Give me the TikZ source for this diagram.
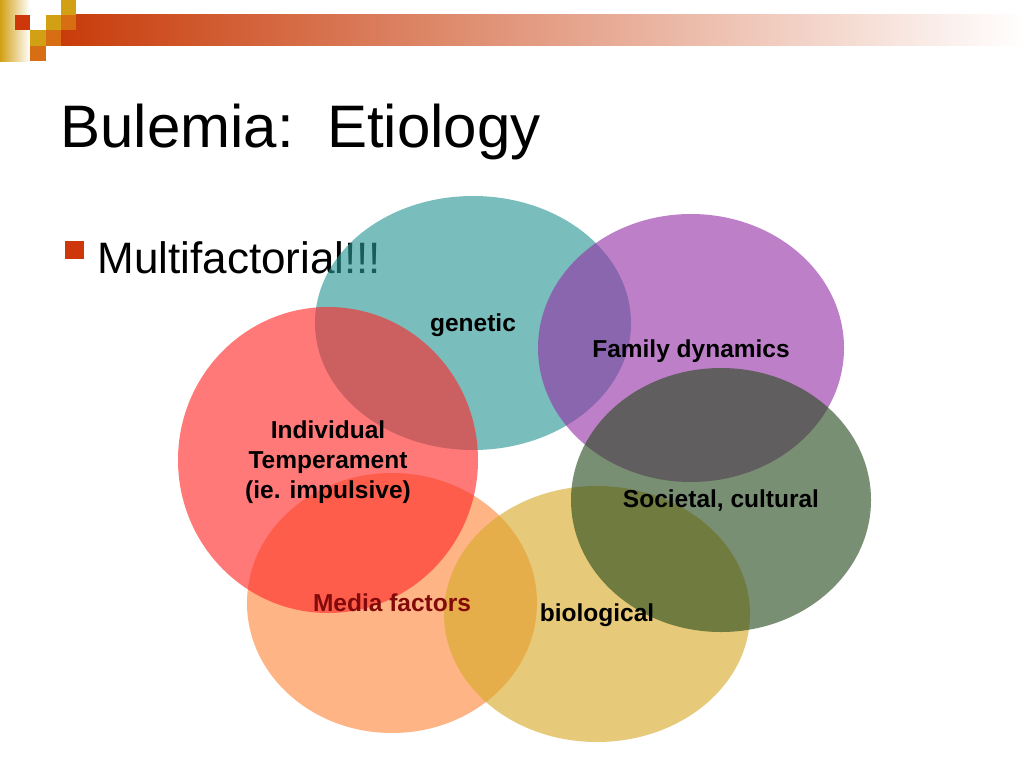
\documentclass[tikz,border=0pt]{standalone}
\usepackage{fontspec}
\setmainfont{Liberation Sans}
\definecolor{dred}{RGB}{205,55,10}
\definecolor{dgold}{RGB}{210,160,20}
\definecolor{dorg}{RGB}{215,110,20}
\definecolor{barred}{RGB}{200,60,10}
\begin{document}
\begin{tikzpicture}[x=1pt,y=-1pt,
 blob/.style={fill opacity=0.62,draw=none},
 lab/.style={font=\bfseries\fontsize{24.5}{30}\selectfont,align=center,text=black}]
\useasboundingbox (0,0) rectangle (1024,768);
\fill[white] (0,0) rectangle (1024,768);
% decoration
\shade[left color=barred, right color=white] (61,15) rectangle (1024,46);
\shade[left color=dgold, right color=white] (0,0) rectangle (30,61);
\fill[dred] (15,15) rectangle (30,30);
\fill[dgold] (46,15) rectangle (61,30);
\fill[dgold] (61,0) rectangle (76,15);
\fill[dorg] (61,15) rectangle (76,30);
\fill[dgold] (30,30) rectangle (46,46);
\fill[dorg] (46,30) rectangle (61,46);
\fill[dorg] (30,46) rectangle (46,61);
\node[anchor=west,font=\fontsize{60}{70}\selectfont] (title) at (57,132) {Bulemia:\ \ Etiology};
\fill[dred] (65,241) rectangle (84,259);
\node[anchor=west,font=\fontsize{44}{50}\selectfont] (sub) at (94,258) {Multifactorial!!!};
% ellipses
\fill[blob,fill={rgb,255:red,40;green,150;blue,150}] (473,323) ellipse (158 and 127);
\fill[blob,fill={rgb,255:red,150;green,50;blue,165}] (691,348) ellipse (153 and 134);
\fill[blob,fill={rgb,255:red,255;green,135;blue,60}] (392,603) ellipse (145 and 130);
\fill[blob,fill={rgb,255:red,215;green,170;blue,40}] (597,614) ellipse (153 and 128);
\fill[blob,fill={rgb,255:red,40;green,75;blue,30}] (721,500) ellipse (150 and 132);
\fill[blob,fill={rgb,255:red,255;green,40;blue,40}] (328,460) ellipse (150 and 153);
\node[lab] (gen) at (473,325) {genetic};
\node[lab] (fam) at (691,351) {Family dynamics};
\node[lab] (soc) at (721,501) {Societal, cultural};
\node[lab] (ind) at (328,462) {Individual\\Temperament\\(ie. impulsive)};
\node[lab,text={rgb,255:red,130;green,10;blue,10}] (med) at (392,603) {Media factors};
\node[lab] (bio) at (597,615) {biological};
\end{tikzpicture}
\end{document}
